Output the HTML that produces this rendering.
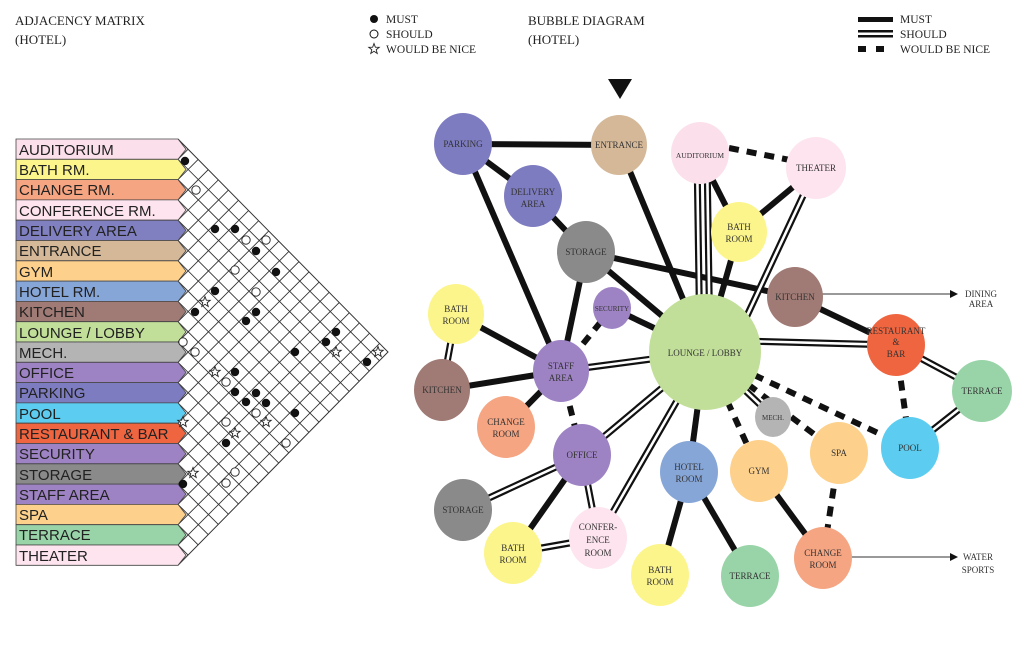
<!DOCTYPE html>
<html><head><meta charset="utf-8"><style>
html,body{margin:0;padding:0;background:#fff;width:1024px;height:661px;overflow:hidden;}
svg{display:block;}
.h{font-family:"Liberation Serif",serif;font-size:13px;fill:#222;}
.r{font-family:"Liberation Sans",sans-serif;font-size:15px;fill:#222;}
.b{font-family:"Liberation Serif",serif;font-size:9px;fill:#333;text-anchor:middle;}
.m{stroke:#111;stroke-width:6;}
.s1{stroke:#111;stroke-width:7;}
.s2{stroke:#fff;stroke-width:2.6;}
.n{stroke:#111;stroke-width:6;stroke-dasharray:10 8;}
</style></head><body>
<svg width="1024" height="661" viewBox="0 0 1024 661" xmlns="http://www.w3.org/2000/svg">
<defs>
<polygon id="st" points="0,-5.5 1.35,-1.86 5.23,-1.7 2.19,0.71 3.23,4.45 0,2.3 -3.23,4.45 -2.19,0.71 -5.23,-1.7 -1.35,-1.86" fill="#fff" stroke="#222" stroke-width="0.9"/>
<clipPath id="tri"><polygon points="178,139 388,352 178,565.3"/></clipPath>
</defs>
<!-- headers -->
<text class="h" x="15" y="25">ADJACENCY  MATRIX</text>
<text class="h" x="15" y="44">(HOTEL)</text>
<circle cx="374" cy="19" r="4" fill="#111"/>
<text class="h" x="386" y="23" style="font-size:11.5px">MUST</text>
<circle cx="374" cy="34" r="4" fill="none" stroke="#111" stroke-width="1"/>
<text class="h" x="386" y="38" style="font-size:11.5px">SHOULD</text>
<use href="#st" x="374" y="49"/>
<text class="h" x="386" y="53" style="font-size:11.5px">WOULD BE NICE</text>
<text class="h" x="528" y="25">BUBBLE  DIAGRAM</text>
<text class="h" x="528" y="44">(HOTEL)</text>
<rect x="858" y="17" width="35" height="5" fill="#111"/>
<rect x="858" y="30" width="35" height="2.5" fill="#111"/>
<rect x="858" y="35" width="35" height="2.5" fill="#111"/>
<rect x="858" y="46" width="8" height="6" fill="#111"/><rect x="876" y="46" width="8" height="6" fill="#111"/>
<text class="h" x="900" y="23" style="font-size:11.5px">MUST</text>
<text class="h" x="900" y="38" style="font-size:11.5px">SHOULD</text>
<text class="h" x="900" y="53" style="font-size:11.5px">WOULD BE NICE</text>
<polygon points="608,79 632,79 620,99" fill="#111"/>

<!-- matrix grid -->
<g clip-path="url(#tri)" stroke="#333" stroke-width="0.9">
<line x1="178" y1="139" x2="604" y2="565"/><line x1="178" y1="159.3" x2="604" y2="585.3"/><line x1="178" y1="179.6" x2="604" y2="605.6"/><line x1="178" y1="199.9" x2="604" y2="625.9"/><line x1="178" y1="220.2" x2="604" y2="646.2"/><line x1="178" y1="240.5" x2="604" y2="666.5"/><line x1="178" y1="260.8" x2="604" y2="686.8"/><line x1="178" y1="281.1" x2="604" y2="707.1"/><line x1="178" y1="301.4" x2="604" y2="727.4"/><line x1="178" y1="321.7" x2="604" y2="747.7"/><line x1="178" y1="342" x2="604" y2="768"/><line x1="178" y1="362.3" x2="604" y2="788.3"/><line x1="178" y1="382.6" x2="604" y2="808.6"/><line x1="178" y1="402.9" x2="604" y2="828.9"/><line x1="178" y1="423.2" x2="604" y2="849.2"/><line x1="178" y1="443.5" x2="604" y2="869.5"/><line x1="178" y1="463.8" x2="604" y2="889.8"/><line x1="178" y1="484.1" x2="604" y2="910.1"/><line x1="178" y1="504.4" x2="604" y2="930.4"/><line x1="178" y1="524.7" x2="604" y2="950.7"/><line x1="178" y1="545" x2="604" y2="971"/><line x1="178" y1="565.3" x2="604" y2="991.3"/>
<line x1="178" y1="139" x2="604" y2="-287"/><line x1="178" y1="159.3" x2="604" y2="-266.7"/><line x1="178" y1="179.6" x2="604" y2="-246.4"/><line x1="178" y1="199.9" x2="604" y2="-226.1"/><line x1="178" y1="220.2" x2="604" y2="-205.8"/><line x1="178" y1="240.5" x2="604" y2="-185.5"/><line x1="178" y1="260.8" x2="604" y2="-165.2"/><line x1="178" y1="281.1" x2="604" y2="-144.9"/><line x1="178" y1="301.4" x2="604" y2="-124.6"/><line x1="178" y1="321.7" x2="604" y2="-104.3"/><line x1="178" y1="342" x2="604" y2="-84"/><line x1="178" y1="362.3" x2="604" y2="-63.7"/><line x1="178" y1="382.6" x2="604" y2="-43.4"/><line x1="178" y1="402.9" x2="604" y2="-23.1"/><line x1="178" y1="423.2" x2="604" y2="-2.8"/><line x1="178" y1="443.5" x2="604" y2="17.5"/><line x1="178" y1="463.8" x2="604" y2="37.8"/><line x1="178" y1="484.1" x2="604" y2="58.1"/><line x1="178" y1="504.4" x2="604" y2="78.4"/><line x1="178" y1="524.7" x2="604" y2="98.7"/><line x1="178" y1="545" x2="604" y2="119"/><line x1="178" y1="565.3" x2="604" y2="139.3"/>
</g>
<polyline points="178,139 388,352 178,565.3" fill="none" stroke="#333" stroke-width="1"/>

<!-- row labels -->
<g stroke="#444" stroke-width="0.8">
<polygon points="16,139 178,139 186,149.2 178,159.3 16,159.3" fill="#fbe0ec"/>
<polygon points="16,159.3 178,159.3 186,169.5 178,179.6 16,179.6" fill="#fcf58c"/>
<polygon points="16,179.6 178,179.6 186,189.8 178,199.9 16,199.9" fill="#f6a582"/>
<polygon points="16,199.9 178,199.9 186,210.1 178,220.2 16,220.2" fill="#fde4ee"/>
<polygon points="16,220.2 178,220.2 186,230.4 178,240.5 16,240.5" fill="#8080c0"/>
<polygon points="16,240.5 178,240.5 186,250.7 178,260.8 16,260.8" fill="#d4b898"/>
<polygon points="16,260.8 178,260.8 186,271 178,281.1 16,281.1" fill="#fdd08c"/>
<polygon points="16,281.1 178,281.1 186,291.3 178,301.4 16,301.4" fill="#87a6d8"/>
<polygon points="16,301.4 178,301.4 186,311.6 178,321.7 16,321.7" fill="#a07a74"/>
<polygon points="16,321.7 178,321.7 186,331.9 178,342 16,342" fill="#c2df9a"/>
<polygon points="16,342 178,342 186,352.2 178,362.3 16,362.3" fill="#b4b4b4"/>
<polygon points="16,362.3 178,362.3 186,372.5 178,382.6 16,382.6" fill="#9e83c4"/>
<polygon points="16,382.6 178,382.6 186,392.8 178,402.9 16,402.9" fill="#7e7cc0"/>
<polygon points="16,402.9 178,402.9 186,413.1 178,423.2 16,423.2" fill="#5ccdf0"/>
<polygon points="16,423.2 178,423.2 186,433.4 178,443.5 16,443.5" fill="#ef6540"/>
<polygon points="16,443.5 178,443.5 186,453.7 178,463.8 16,463.8" fill="#9e83c4"/>
<polygon points="16,463.8 178,463.8 186,474 178,484.1 16,484.1" fill="#8a8a8a"/>
<polygon points="16,484.1 178,484.1 186,494.3 178,504.4 16,504.4" fill="#9e83c4"/>
<polygon points="16,504.4 178,504.4 186,514.6 178,524.7 16,524.7" fill="#fdd08c"/>
<polygon points="16,524.7 178,524.7 186,534.9 178,545 16,545" fill="#98d4a8"/>
<polygon points="16,545 178,545 186,555.2 178,565.3 16,565.3" fill="#fde4ee"/>
</g>
<g class="r">
<text x="19" y="155">AUDITORIUM</text><text x="19" y="175">BATH RM.</text><text x="19" y="195">CHANGE RM.</text><text x="19" y="216">CONFERENCE RM.</text><text x="19" y="236">DELIVERY AREA</text><text x="19" y="256">ENTRANCE</text><text x="19" y="277">GYM</text><text x="19" y="297">HOTEL RM.</text><text x="19" y="317">KITCHEN</text><text x="19" y="338">LOUNGE / LOBBY</text><text x="19" y="358">MECH.</text><text x="19" y="378">OFFICE</text><text x="19" y="398">PARKING</text><text x="19" y="419">POOL</text><text x="19" y="439">RESTAURANT &amp; BAR</text><text x="19" y="459">SECURITY</text><text x="19" y="480">STORAGE</text><text x="19" y="500">STAFF AREA</text><text x="19" y="520">SPA</text><text x="19" y="540">TERRACE</text><text x="19" y="561">THEATER</text>
</g>
<!-- matrix marks -->
<g fill="#111">
<circle cx="185" cy="161" r="4.2"/><circle cx="215" cy="229" r="4.2"/><circle cx="235" cy="229" r="4.2"/><circle cx="256" cy="251" r="4.2"/><circle cx="276" cy="272" r="4.2"/><circle cx="215" cy="291" r="4.2"/><circle cx="195" cy="312" r="4.2"/><circle cx="256" cy="312" r="4.2"/><circle cx="246" cy="321" r="4.2"/><circle cx="336" cy="332" r="4.2"/><circle cx="326" cy="342" r="4.2"/><circle cx="295" cy="352" r="4.2"/><circle cx="367" cy="362" r="4.2"/><circle cx="235" cy="372" r="4.2"/><circle cx="235" cy="392" r="4.2"/><circle cx="256" cy="393" r="4.2"/><circle cx="246" cy="402" r="4.2"/><circle cx="266" cy="403" r="4.2"/><circle cx="295" cy="413" r="4.2"/><circle cx="226" cy="443" r="4.2"/><circle cx="183" cy="484" r="4.2"/>
</g>
<g fill="#fff" stroke="#222" stroke-width="0.9">
<circle cx="196" cy="190" r="4.2"/><circle cx="246" cy="240" r="4.2"/><circle cx="266" cy="240" r="4.2"/><circle cx="235" cy="270" r="4.2"/><circle cx="256" cy="292" r="4.2"/><circle cx="183" cy="342" r="4.2"/><circle cx="195" cy="352" r="4.2"/><circle cx="226" cy="382" r="4.2"/><circle cx="256" cy="413" r="4.2"/><circle cx="226" cy="422" r="4.2"/><circle cx="286" cy="443" r="4.2"/><circle cx="235" cy="472" r="4.2"/><circle cx="226" cy="483" r="4.2"/>
</g>
<use href="#st" x="205" y="302"/><use href="#st" x="336" y="352"/><use href="#st" x="378" y="352"/><use href="#st" x="215" y="372"/><use href="#st" x="183" y="422"/><use href="#st" x="266" y="422"/><use href="#st" x="235" y="433"/><use href="#st" x="193" y="473"/>

<!-- connectors: MUST -->
<g class="m">
<line x1="463" y1="144" x2="619" y2="145"/>
<line x1="463" y1="144" x2="533" y2="196"/>
<line x1="463" y1="144" x2="561" y2="371"/>
<line x1="619" y1="145" x2="705" y2="352"/>
<line x1="533" y1="196" x2="586" y2="252"/>
<line x1="586" y1="252" x2="705" y2="352"/>
<line x1="586" y1="252" x2="561" y2="371"/>
<line x1="586" y1="252" x2="795" y2="297"/>
<line x1="795" y1="297" x2="896" y2="345"/>
<line x1="700" y1="155" x2="739" y2="232"/>
<line x1="739" y1="232" x2="816" y2="168"/>
<line x1="739" y1="232" x2="705" y2="352"/>
<line x1="612" y1="308" x2="705" y2="352"/>
<line x1="456" y1="314" x2="561" y2="371"/>
<line x1="442" y1="390" x2="561" y2="371"/>
<line x1="561" y1="371" x2="506" y2="427"/>
<line x1="705" y1="352" x2="689" y2="472"/>
<line x1="582" y1="455" x2="513" y2="553"/>
<line x1="689" y1="472" x2="660" y2="575"/>
<line x1="689" y1="472" x2="750" y2="576"/>
<line x1="759" y1="471" x2="823" y2="558"/>
</g>
<!-- SHOULD -->
<g class="s1">
<line x1="697" y1="155" x2="700" y2="352"/><line x1="707" y1="155" x2="710" y2="352"/>
<line x1="816" y1="168" x2="730" y2="352"/>
<line x1="456" y1="314" x2="442" y2="390"/>
<line x1="561" y1="371" x2="705" y2="352"/>
<line x1="705" y1="340" x2="896" y2="345"/>
<line x1="896" y1="345" x2="982" y2="391"/>
<line x1="910" y1="448" x2="982" y2="391"/>
<line x1="705" y1="352" x2="773" y2="417"/>
<line x1="705" y1="352" x2="582" y2="455"/>
<line x1="705" y1="352" x2="598" y2="538"/>
<line x1="582" y1="455" x2="463" y2="510"/>
<line x1="582" y1="455" x2="598" y2="538"/>
<line x1="513" y1="553" x2="598" y2="538"/>
</g>
<g class="s2">
<line x1="697" y1="155" x2="700" y2="352"/><line x1="707" y1="155" x2="710" y2="352"/>
<line x1="816" y1="168" x2="730" y2="352"/>
<line x1="456" y1="314" x2="442" y2="390"/>
<line x1="561" y1="371" x2="705" y2="352"/>
<line x1="705" y1="340" x2="896" y2="345"/>
<line x1="896" y1="345" x2="982" y2="391"/>
<line x1="910" y1="448" x2="982" y2="391"/>
<line x1="705" y1="352" x2="773" y2="417"/>
<line x1="705" y1="352" x2="582" y2="455"/>
<line x1="705" y1="352" x2="598" y2="538"/>
<line x1="582" y1="455" x2="463" y2="510"/>
<line x1="582" y1="455" x2="598" y2="538"/>
<line x1="513" y1="553" x2="598" y2="538"/>
</g>
<!-- WOULD BE NICE -->
<g class="n">
<line x1="729" y1="148" x2="790" y2="160"/>
<line x1="612" y1="308" x2="561" y2="371"/>
<line x1="561" y1="371" x2="582" y2="455"/>
<line x1="896" y1="345" x2="910" y2="448"/>
<line x1="705" y1="352" x2="910" y2="448"/>
<line x1="705" y1="352" x2="839" y2="453"/>
<line x1="705" y1="352" x2="759" y2="471"/>
<line x1="839" y1="453" x2="823" y2="558"/>
</g>
<!-- thin arrows -->
<line x1="795" y1="294" x2="950" y2="294" stroke="#333" stroke-width="1"/>
<polygon points="950,290 958,294 950,298" fill="#111"/>
<text class="b" x="981" y="297">DINING</text><text class="b" x="981" y="307">AREA</text>
<line x1="823" y1="557" x2="950" y2="557" stroke="#333" stroke-width="1"/>
<polygon points="950,553 958,557 950,561" fill="#111"/>
<text class="b" x="978" y="560">WATER</text><text class="b" x="978" y="573">SPORTS</text>

<!-- bubbles -->
<g>
<ellipse cx="463" cy="144" rx="29" ry="31" fill="#7e7cc0"/>
<ellipse cx="619" cy="145" rx="28" ry="30" fill="#d4b898"/>
<ellipse cx="533" cy="196" rx="29" ry="31" fill="#7e7cc0"/>
<ellipse cx="700" cy="153" rx="29" ry="31" fill="#fbe0ec"/>
<ellipse cx="816" cy="168" rx="30" ry="31" fill="#fde4ee"/>
<ellipse cx="739" cy="232" rx="28" ry="30" fill="#fcf58c"/>
<ellipse cx="586" cy="252" rx="29" ry="31" fill="#8a8a8a"/>
<ellipse cx="795" cy="297" rx="28" ry="30" fill="#a07a74"/>
<ellipse cx="612" cy="308" rx="19" ry="21" fill="#9e83c4"/>
<ellipse cx="705" cy="352" rx="56" ry="58" fill="#c2df9a"/>
<ellipse cx="456" cy="314" rx="28" ry="30" fill="#fcf58c"/>
<ellipse cx="561" cy="371" rx="28" ry="31" fill="#9e83c4"/>
<ellipse cx="442" cy="390" rx="28" ry="31" fill="#a07a74"/>
<ellipse cx="896" cy="345" rx="29" ry="31" fill="#ef6540"/>
<ellipse cx="982" cy="391" rx="30" ry="31" fill="#98d4a8"/>
<ellipse cx="506" cy="427" rx="29" ry="31" fill="#f6a582"/>
<ellipse cx="773" cy="417" rx="18" ry="20" fill="#b4b4b4"/>
<ellipse cx="582" cy="455" rx="29" ry="31" fill="#9e83c4"/>
<ellipse cx="839" cy="453" rx="29" ry="31" fill="#fdd08c"/>
<ellipse cx="910" cy="448" rx="29" ry="31" fill="#5ccdf0"/>
<ellipse cx="759" cy="471" rx="29" ry="31" fill="#fdd08c"/>
<ellipse cx="689" cy="472" rx="29" ry="31" fill="#87a6d8"/>
<ellipse cx="463" cy="510" rx="29" ry="31" fill="#8a8a8a"/>
<ellipse cx="598" cy="538" rx="29" ry="31" fill="#fde4ee"/>
<ellipse cx="513" cy="553" rx="29" ry="31" fill="#fcf58c"/>
<ellipse cx="660" cy="575" rx="29" ry="31" fill="#fcf58c"/>
<ellipse cx="750" cy="576" rx="29" ry="31" fill="#98d4a8"/>
<ellipse cx="823" cy="558" rx="29" ry="31" fill="#f6a582"/>
</g>
<g class="b">
<text x="463" y="147">PARKING</text>
<text x="619" y="148">ENTRANCE</text>
<text x="533" y="195">DELIVERY</text><text x="533" y="207">AREA</text>
<text x="700" y="158" style="font-size:7.5px">AUDITORIUM</text>
<text x="816" y="171">THEATER</text>
<text x="739" y="230">BATH</text><text x="739" y="242">ROOM</text>
<text x="586" y="255">STORAGE</text>
<text x="795" y="300">KITCHEN</text>
<text x="612" y="311" style="font-size:7px">SECURITY</text>
<text x="705" y="356">LOUNGE / LOBBY</text>
<text x="456" y="312">BATH</text><text x="456" y="324">ROOM</text>
<text x="561" y="369">STAFF</text><text x="561" y="381">AREA</text>
<text x="442" y="393">KITCHEN</text>
<text x="896" y="334">RESTAURANT</text><text x="896" y="345">&amp;</text><text x="896" y="357">BAR</text>
<text x="982" y="394">TERRACE</text>
<text x="506" y="425">CHANGE</text><text x="506" y="437">ROOM</text>
<text x="773" y="420" style="font-size:7px">MECH.</text>
<text x="582" y="458">OFFICE</text>
<text x="839" y="456">SPA</text>
<text x="910" y="451">POOL</text>
<text x="759" y="474">GYM</text>
<text x="689" y="470">HOTEL</text><text x="689" y="482">ROOM</text>
<text x="463" y="513">STORAGE</text>
<text x="598" y="530">CONFER-</text><text x="598" y="543">ENCE</text><text x="598" y="556">ROOM</text>
<text x="513" y="551">BATH</text><text x="513" y="563">ROOM</text>
<text x="660" y="573">BATH</text><text x="660" y="585">ROOM</text>
<text x="750" y="579">TERRACE</text>
<text x="823" y="556">CHANGE</text><text x="823" y="568">ROOM</text>
</g>
</svg>
</body></html>
